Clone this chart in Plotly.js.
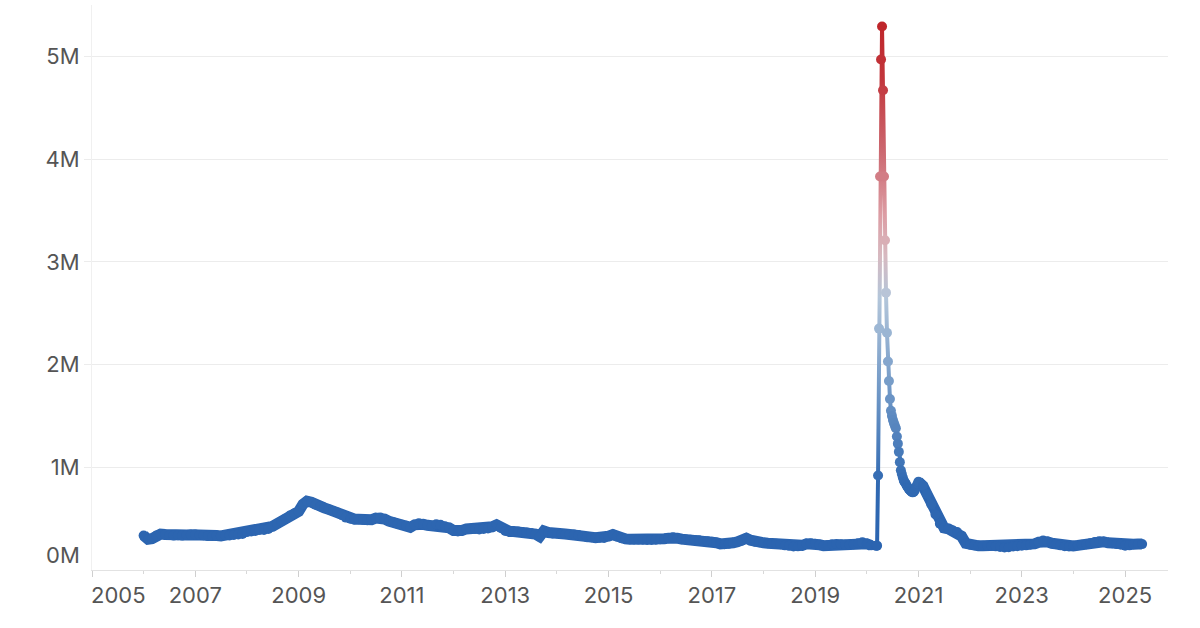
<!DOCTYPE html>
<html>
<head>
<meta charset="utf-8">
<script src="https://cdn.plot.ly/plotly-3.0.1.min.js"></script>
<style>
  html, body { margin: 0; padding: 0; background: #ffffff; }
  #chart { width: 1200px; height: 628px; }
</style>
</head>
<body>
<div id="chart"></div>
<script>
// ---------- DATA (weekly initial claims, 4-week average, in thousands) ----------
// Monthly readings, Jan 2006 – Feb 2020
const monthlyStartA = [2006, 1];
const claimsA = [
  335,300,305,335,350,345,340,335,338,335,340,342,   // 2006
  345,340,338,330,330,335,332,340,336,340,345,350,   // 2007
  370,375,380,390,390,400,425,450,475,500,530,550,   // 2008
  570,640,670,660,635,620,605,590,575,560,535,510,   // 2009
  500,495,495,490,485,490,505,510,495,475,465,450,   // 2010
  440,430,415,440,455,445,435,430,445,440,425,410,   // 2011
  385,375,385,400,400,400,395,400,405,420,440,410,   // 2012
  380,375,375,375,370,365,360,350,325,380,365,355,   // 2013
  357,350,350,345,345,340,330,320,320,315,315,312,   // 2014
  330,345,325,310,303,300,298,296,295,293,293,295,   // 2015
  300,305,310,318,310,300,298,295,293,290,283,280,   // 2016
  275,265,254,250,255,265,275,285,310,290,275,270,   // 2017
  265,260,255,255,250,240,235,228,230,240,255,260,   // 2018
  255,245,237,240,250,254,250,247,245,250,260,270,   // 2019
  255,240                                            // 2020 Jan–Feb
];

// Weekly readings, Mar – Dec 2020
const weeksB = [
  '2020-03-07','2020-03-14','2020-03-21','2020-03-28',
  '2020-04-04','2020-04-11','2020-04-18','2020-04-25',
  '2020-05-02','2020-05-09','2020-05-16','2020-05-23','2020-05-30',
  '2020-06-06','2020-06-13','2020-06-20','2020-06-27',
  '2020-07-04','2020-07-11','2020-07-18','2020-07-25',
  '2020-08-01','2020-08-08','2020-08-15','2020-08-22','2020-08-29',
  '2020-09-05','2020-09-12','2020-09-19','2020-09-26',
  '2020-10-03','2020-10-10','2020-10-17','2020-10-24','2020-10-31',
  '2020-11-07','2020-11-14','2020-11-21','2020-11-28',
  '2020-12-05','2020-12-12','2020-12-19','2020-12-26'
];
const claimsB = [
  235,237,920,2350,
  3830,4970,5290,4670,
  3830,3210,2700,2310,2030,
  1840,1665,1550,1500,
  1460,1430,1405,1380,
  1300,1230,1150,1050,970,
  935,900,870,855,
  840,820,805,790,780,
  770,760,756,760,
  775,800,820,840
];

// Monthly readings, Jan 2021 – May 2025
const monthlyStartC = [2021, 1];
const claimsC = [
  860,820,740,640,540,450,410,400,385,370,330,260,   // 2021
  245,240,235,235,237,235,230,225,220,222,228,232,   // 2022
  237,240,245,254,270,286,275,260,250,240,232,228,   // 2023
  235,240,247,250,260,272,280,275,265,260,254,245,   // 2024
  237,240,250,254,252                                // 2025 Jan–May
];

// Axis ticks
const xTickVals  = ['2005-01-01','2007-01-01','2009-01-01','2011-01-01','2013-01-01','2015-01-01','2017-01-01','2019-01-01','2021-01-01','2023-01-01','2025-01-01'];
const xTickText  = ['','2007','2009','2011','2013','2015','2017','2019','2021','2023','2025'];
const firstXLabel = '2005';
const yTickVals  = [1e6, 2e6, 3e6, 4e6, 5e6];
const yTickText  = ['1M','2M','3M','4M','5M'];
const zeroLabel  = '0M';

// ---------- BUILD SERIES ----------
function monthDates(start, n) {
  const out = [];
  let y = start[0], m = start[1];
  for (let i = 0; i < n; i++) {
    out.push(y + '-' + String(m).padStart(2, '0') + '-01');
    m++; if (m > 12) { m = 1; y++; }
  }
  return out;
}
const datesA = monthDates(monthlyStartA, claimsA.length);
const datesC = monthDates(monthlyStartC, claimsC.length);
const xs = [].concat(datesA, weeksB, datesC);
const ys = [].concat(claimsA, claimsB, claimsC).map(v => v * 1000);

// thick underlay for the dense monthly stretches (weekly data reads as a solid band)
const bandX = [].concat(datesA, [null], datesC);
const bandY = [].concat(claimsA.map(v => v * 1000), [null], claimsC.map(v => v * 1000));

const cmin = 200000, cmax = 5300000;
const BLUE = '#2b64b0';
const colorStops = [
  [0.00, BLUE],
  [0.12, '#3069b2'],
  [0.30, '#6f97c6'],
  [0.48, '#b3c6da'],
  [0.56, '#d7b9c0'],
  [0.64, '#dc9ca3'],
  [0.76, '#cc6870'],
  [0.90, '#c2363c'],
  [1.00, '#bf262b']
];

const FONT = 'Inter, "Open Sans", sans-serif';
const TXT = '#555555';
const FS = 22;

const band = {
  type: 'scatter',
  mode: 'lines',
  x: bandX,
  y: bandY,
  connectgaps: false,
  line: { color: BLUE, width: 11, shape: 'linear' },
  hoverinfo: 'skip'
};

const trace = {
  type: 'scatter',
  mode: 'lines+markers',
  x: xs,
  y: ys,
  line: { color: BLUE, width: 4 },
  marker: {
    size: 10,
    color: ys,
    colorscale: colorStops,
    cmin: cmin,
    cmax: cmax,
    showscale: false,
    line: { width: 0 }
  },
  hoverinfo: 'skip'
};

const layout = {
  width: 1200,
  height: 628,
  margin: { l: 92, r: 32, t: 5, b: 58 },
  paper_bgcolor: '#ffffff',
  plot_bgcolor: '#ffffff',
  showlegend: false,
  font: { family: FONT, color: TXT, size: FS },
  xaxis: {
    type: 'date',
    range: ['2005-01-01', '2025-10-31'],
    showgrid: false,
    zeroline: false,
    showline: true,
    linecolor: '#e2e2e2',
    linewidth: 1,
    ticks: 'outside',
    ticklen: 6,
    tickwidth: 1,
    tickcolor: '#cfcfcf',
    tickmode: 'array',
    tickvals: xTickVals,
    ticktext: xTickText,
    tickfont: { family: FONT, color: TXT, size: FS },
    minor: { ticks: 'outside', ticklen: 3, tickwidth: 1, tickcolor: '#d8d8d8', tick0: '2006-01-01', dtick: 'M24', showgrid: false }
  },
  yaxis: {
    range: [0, 5.5e6],
    tickmode: 'array',
    tickvals: yTickVals,
    ticktext: yTickText,
    showgrid: true,
    gridcolor: '#ececec',
    gridwidth: 1,
    zeroline: false,
    showline: true,
    linecolor: '#f0f0f0',
    linewidth: 1,
    ticks: 'outside',
    ticklen: 7,
    tickcolor: '#ececec',
    tickfont: { family: FONT, color: TXT, size: FS }
  },
  annotations: [
    {
      text: zeroLabel, xref: 'paper', yref: 'y', x: 0, y: 0,
      xanchor: 'right', yanchor: 'middle', xshift: -10, yshift: 15,
      showarrow: false, font: { family: FONT, color: TXT, size: FS }
    },
    {
      text: firstXLabel, xref: 'x', yref: 'paper', x: '2005-01-01', y: 0,
      xanchor: 'left', yanchor: 'top', xshift: -3, yshift: -10,
      showarrow: false, font: { family: FONT, color: TXT, size: FS }
    }
  ]
};

const gd = document.getElementById('chart');
Plotly.newPlot(gd, [band, trace], layout, { staticPlot: true, displayModeBar: false }).then(function (g) {
  // vertical gradient on the main line, mapped through the y axis scale
  const ya = g._fullLayout.yaxis;
  const ns = 'http://www.w3.org/2000/svg';
  const svg = g.querySelector('svg.main-svg');
  let defs = svg.querySelector('defs');
  if (!defs) { defs = document.createElementNS(ns, 'defs'); svg.insertBefore(defs, svg.firstChild); }
  const lg = document.createElementNS(ns, 'linearGradient');
  lg.setAttribute('id', 'claimsLineGrad');
  lg.setAttribute('gradientUnits', 'userSpaceOnUse');
  lg.setAttribute('x1', 0); lg.setAttribute('x2', 0);
  lg.setAttribute('y1', ya.l2p(cmin));
  lg.setAttribute('y2', ya.l2p(cmax));
  colorStops.forEach(function (s) {
    const st = document.createElementNS(ns, 'stop');
    st.setAttribute('offset', s[0]);
    st.setAttribute('stop-color', s[1]);
    lg.appendChild(st);
  });
  defs.appendChild(lg);
  const traces = g.querySelectorAll('.scatterlayer .trace');
  const mainTrace = traces[traces.length - 1];
  mainTrace.querySelectorAll('.js-line').forEach(function (p) {
    p.style.stroke = 'url(#claimsLineGrad)';
  });
});
</script>
</body>
</html>
